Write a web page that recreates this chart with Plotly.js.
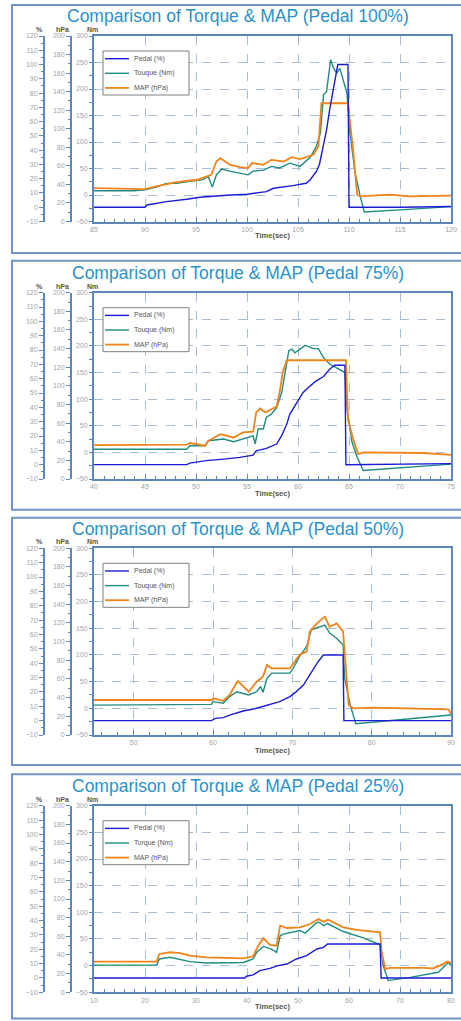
<!DOCTYPE html>
<html><head><meta charset="utf-8">
<script src="https://cdn.plot.ly/plotly-3.0.1.min.js"></script>
<style>html,body{margin:0;padding:0;background:#fff}#chart{width:461px;height:1021px}</style>
</head><body><div id="chart"></div>
<script>
// ---------- text ----------
const panelTitles = [
  'Comparison of Torque & MAP (Pedal 100%)',
  'Comparison of Torque & MAP (Pedal 75%)',
  'Comparison of Torque & MAP (Pedal 50%)',
  'Comparison of Torque & MAP (Pedal 25%)'
];
const pedalName = 'Pedal (%)';
const torqueNames = ['Touque (Nm)', 'Touque (Nm)', 'Touque (Nm)', 'Torque (Nm)'];
const mapName = 'MAP (hPa)';
const timeRanges = [[85, 120], [40, 75], [45, 90], [10, 80]];
const timeDticks = [5, 5, 10, 10];
const timeMinor = [1, 1, 2, 2];

// ---------- panel 1 (Pedal 100%) ----------
const p1PedalT = [85, 90, 90.2, 92.1, 94.1, 95.4, 98.0, 100.0, 101.9, 102.6, 104.5, 105.8, 106.2, 106.8, 107.1, 107.5, 107.8, 108.1, 108.6, 108.9, 109.9, 110.0, 115, 120];
const p1Pedal  = [0, 0, 1.6, 3.9, 5.6, 7.0, 8.4, 9.1, 10.9, 13.3, 15.1, 16.8, 19.3, 25.1, 30, 42.6, 54.2, 68.2, 86.9, 100, 100, 0, 0, 0.5];
const p1TorqueT = [85, 88.9, 90, 91.1, 92.1, 93.1, 94.4, 95.7, 96.2, 96.6, 97.0, 97.5, 98.3, 99.3, 100.1, 100.6, 101.6, 102.4, 103.2, 104.2, 105.2, 106.2, 106.8, 107.2, 107.5, 107.8, 108.2, 108.5, 108.8, 109.1, 109.4, 109.8, 110.1, 110.6, 111.1, 111.5, 115, 120];
const p1Torque  = [8, 8, 10, 15, 22, 22, 26, 29, 35, 15, 38, 49, 45, 41, 38, 45, 47, 54, 51, 60, 54, 71, 92, 117, 189, 195, 255, 239, 230, 239, 217, 192, 117, 41, -2, -32, -28, -22];
const p1MapT = [85, 90, 91.1, 93.1, 95.1, 96.2, 96.5, 97.0, 97.4, 98.3, 99.3, 100.1, 100.5, 101.6, 102.4, 103.6, 104.4, 105.2, 106.5, 107.0, 107.3, 109.9, 110.4, 110.8, 111.1, 114.0, 116.0, 120];
const p1Map  = [36, 35, 37.8, 42.5, 45, 48.6, 50.4, 64.7, 68.3, 61.2, 58.6, 57.6, 63, 61.2, 66.5, 64.7, 69.4, 67.3, 71.9, 80.9, 127.5, 127.5, 77.3, 28.9, 27.1, 28.9, 27, 27.8];

// ---------- panel 2 (Pedal 75%) ----------
const p2PedalT = [40, 49.1, 49.4, 51.0, 52.7, 54.3, 55.6, 55.9, 56.9, 57.9, 58.4, 58.9, 59.2, 59.9, 60.5, 61.2, 61.8, 62.5, 63.1, 63.6, 64.6, 64.7, 75];
const p2Pedal  = [0, 0, 1.1, 2.8, 3.9, 5.1, 6.7, 9.7, 11.4, 14.4, 20.2, 28.3, 35.3, 43.4, 50.4, 55, 58.5, 61.5, 66.6, 69.4, 69.4, 0, 0.7];
const p2TorqueT = [40, 49.1, 49.4, 50.9, 51.2, 52.7, 53.7, 54.6, 55.6, 55.8, 56.1, 56.6, 56.9, 57.4, 57.9, 58.4, 58.7, 59.1, 59.4, 59.7, 60.7, 61.5, 62.0, 62.5, 63.1, 64.0, 64.6, 64.8, 65.3, 65.8, 66.4, 75];
const p2Torque  = [6, 6, 12.5, 12.5, 22, 25, 20, 25, 31, 16, 44, 44, 66, 72, 84, 112, 147, 191, 194, 187, 201, 195, 195, 178, 166, 156, 150, 81, 19, -9, -34, -22];
const p2MapT = [40, 49.1, 49.4, 50.9, 51.2, 52.4, 53.7, 54.6, 55.6, 55.9, 56.3, 56.8, 57.9, 58.2, 58.5, 58.9, 64.7, 64.9, 65.4, 65.9, 66.4, 69.0, 72.3, 75];
const p2Map  = [36.4, 36.8, 38.6, 35.7, 41, 48.2, 44.6, 50, 50.7, 71.4, 75.7, 71.4, 77.8, 92.8, 114.3, 127.5, 127.5, 64.3, 42.9, 26.8, 28.6, 28.6, 27.9, 26];

// ---------- panel 3 (Pedal 50%) ----------
const p3PedalT = [45, 59.8, 60.3, 61.3, 62.1, 63.8, 65.5, 66.8, 68.4, 69.7, 70.5, 71.4, 72.2, 73.1, 73.9, 76.4, 76.5, 90];
const p3Pedal  = [0, 0, 1.6, 2.1, 3.9, 6.7, 8.6, 10.9, 13.2, 16.7, 20.2, 24.8, 31.8, 39.9, 45.7, 45.7, 0, 0];
const p3TorqueT = [45, 59.8, 60.0, 61.3, 62.1, 63.0, 64.5, 65.5, 66.0, 66.3, 66.8, 67.4, 69.7, 70.1, 70.9, 71.8, 72.4, 73.5, 74.1, 74.7, 75.6, 76.4, 76.6, 77.3, 78.0, 90];
const p3Torque  = [6, 7.5, 12.5, 9.4, 22, 31, 25, 31, 41, 30, 56, 66, 66, 75, 97, 116, 147, 153, 156, 141, 131, 119, 56, 6, -29, -12.5];
const p3MapT = [45, 59.8, 60.1, 61.3, 62.1, 63.1, 64.5, 65.5, 66.3, 66.8, 67.4, 69.7, 70.9, 71.8, 72.2, 73.1, 74.1, 74.7, 75.6, 76.4, 77.1, 77.7, 80.2, 86.5, 89.7, 90];
const p3Map  = [37.5, 37.5, 39.3, 36.4, 42.9, 57.9, 46.4, 57.1, 62.5, 75, 71.4, 71.4, 85.7, 89.3, 110.7, 119.6, 126.8, 116, 119.6, 110.7, 32.1, 28.6, 29.3, 28.6, 27.5, 22];

// ---------- panel 4 (Pedal 25%) ----------
const p4PedalT = [10, 39.6, 39.9, 41.2, 42.5, 44.5, 46.1, 47.8, 49.7, 51.7, 53.7, 55.0, 55.8, 66.1, 66.3, 80];
const p4Pedal  = [0, 0, 1.2, 2.1, 5.1, 6.7, 8.6, 9.7, 13.2, 15.6, 20.2, 21.3, 23.7, 23.7, 0, 0];
const p4TorqueT = [10, 22.3, 22.8, 24.9, 28.8, 32.1, 39.3, 41.2, 41.9, 43.2, 44.8, 45.8, 46.5, 47.1, 50.4, 51.4, 53.7, 54.3, 55.0, 55.8, 58.9, 62.8, 66.1, 66.7, 67.7, 72.0, 77.5, 78.5, 79.5, 80];
const p4Torque  = [1, 1, 12.5, 15.6, 7.5, 5, 6, 12.5, 25, 36, 31, 25, 56, 59, 66, 61, 81, 81, 75, 79, 64, 52, 39, 0, -28, -22, -12.5, -3, 6, 0];
const p4MapT = [10, 22.3, 22.8, 24.9, 26.9, 28.8, 32.1, 39.3, 41.2, 42.2, 43.2, 44.5, 45.8, 46.5, 47.8, 50.4, 52.4, 54.0, 55.0, 55.9, 58.9, 61.5, 66.1, 66.4, 67.1, 68.0, 74.6, 76.5, 77.8, 79.3, 80];
const p4Map  = [32.9, 32.9, 41.1, 42.9, 42.1, 39.3, 37.5, 36.4, 38.6, 50, 57.9, 50.7, 50, 71.4, 68.9, 69.6, 73.2, 78.6, 75.7, 77.8, 69.6, 66.8, 64.3, 42.9, 25, 26.1, 26.1, 25.7, 28.6, 32.9, 31.4];

const panels = [
  [p1PedalT, p1Pedal, p1TorqueT, p1Torque, p1MapT, p1Map],
  [p2PedalT, p2Pedal, p2TorqueT, p2Torque, p2MapT, p2Map],
  [p3PedalT, p3Pedal, p3TorqueT, p3Torque, p3MapT, p3Map],
  [p4PedalT, p4Pedal, p4TorqueT, p4Torque, p4MapT, p4Map]
];

// ---------- geometry / style ----------
const W = 461, H = 1021;
const px = v => v / W;
const py = v => 1 - v / H;
const plotTop = [36, 292.7, 548.3, 805.7];
const plotBot = [221.5, 479, 735, 992.3];
const frameTop = [5, 260.7, 517.7, 774.3];
const frameBot = [253, 509.7, 765, 1018.5];
const titleY = [15.5, 272.5, 528.5, 785.8];
const X0 = 94, X1 = 451;

const AX = '#5f86b9';
const GRID = '#a9bdd4';
const TICKC = '#a3a3a3';
const FONT = 'Liberation Sans, Arial, sans-serif';
const C_PEDAL = '#1c1cd6', C_TORQUE = '#1e8c82', C_MAP = '#f0841a';
const W_PEDAL = 1.4, W_TORQUE = 1.4, W_MAP = 1.8;

const traces = [];
const layout = {
  width: W, height: H,
  margin: {l: 0, r: 0, t: 0, b: 0},
  paper_bgcolor: '#ffffff', plot_bgcolor: '#ffffff',
  font: {family: FONT, size: 7, color: '#666'},
  showlegend: false,
  annotations: [], shapes: []
};

for (let k = 0; k < 4; k++) {
  const xs = k === 0 ? '' : String(k + 1);
  const xName = 'x' + xs;
  const yNm = 3 * k + 1, yHpa = 3 * k + 2, yPct = 3 * k + 3;
  const yn = n => (n === 1 ? 'y' : 'y' + n);
  const yKey = n => (n === 1 ? 'yaxis' : 'yaxis' + n);
  const d = panels[k];
  const dom = [py(plotBot[k]), py(plotTop[k])];

  traces.push({x: d[0], y: d[1], xaxis: xName, yaxis: yn(yPct), name: pedalName,
    mode: 'lines', line: {color: C_PEDAL, width: W_PEDAL}});
  traces.push({x: d[2], y: d[3], xaxis: xName, yaxis: yn(yNm), name: torqueNames[k],
    mode: 'lines', line: {color: C_TORQUE, width: W_TORQUE}});
  traces.push({x: d[4], y: d[5], xaxis: xName, yaxis: yn(yHpa), name: mapName,
    mode: 'lines', line: {color: C_MAP, width: W_MAP}});

  layout['xaxis' + xs] = {
    domain: [px(X0), px(X1)], anchor: yn(yNm), range: timeRanges[k],
    dtick: timeDticks[k], tick0: 0,
    showline: true, linecolor: AX, linewidth: 2, mirror: true,
    ticks: 'inside', ticklen: 4, tickcolor: AX, tickwidth: 1,
    minor: {dtick: timeMinor[k], ticks: 'inside', ticklen: 3, tickcolor: AX, showgrid: false},
    showgrid: true, gridcolor: GRID, griddash: 'dash', gridwidth: 1,
    zeroline: false,
    tickfont: {size: 7, color: TICKC, family: FONT},
    title: {text: 'Time(sec)', font: {size: 7.5, color: '#555', family: FONT, weight: 700}, standoff: 1}
  };
  layout[yKey(yNm)] = {
    domain: dom, anchor: xName, range: [-50, 300], dtick: 50,
    showline: true, linecolor: AX, linewidth: 2, mirror: true,
    ticks: 'outside', ticklen: 3, tickcolor: AX, tickwidth: 1,
    minor: {dtick: 25, ticks: 'outside', ticklen: 3, tickcolor: AX, showgrid: false},
    showgrid: true, gridcolor: GRID, griddash: 'dash', gridwidth: 1,
    zeroline: false,
    tickfont: {size: 7, color: TICKC, family: FONT}
  };
  layout[yKey(yHpa)] = {
    overlaying: yn(yNm), anchor: 'free', position: px(71), side: 'left',
    range: [0, 200], dtick: 20,
    showline: true, linecolor: AX, linewidth: 2,
    ticks: 'outside', ticklen: 4, tickcolor: AX, tickwidth: 1,
    minor: {dtick: 10, ticks: 'outside', ticklen: 2, tickcolor: AX, showgrid: false},
    showgrid: false, zeroline: false,
    tickfont: {size: 7, color: TICKC, family: FONT}
  };
  layout[yKey(yPct)] = {
    overlaying: yn(yNm), anchor: 'free', position: px(44), side: 'left',
    range: [-10, 120], dtick: 10,
    showline: true, linecolor: AX, linewidth: 2,
    ticks: 'outside', ticklen: 4, tickcolor: AX, tickwidth: 1,
    minor: {dtick: 5, ticks: 'outside', ticklen: 2, tickcolor: AX, showgrid: false},
    showgrid: false, zeroline: false,
    tickfont: {size: 7, color: TICKC, family: FONT}
  };

  // legend box (drawn in the corner of each panel)
  const lgTop = plotTop[k] + 15;
  layout.shapes.push({
    type: 'rect', xref: 'paper', yref: 'paper', layer: 'above',
    x0: px(103), x1: px(189), y0: py(lgTop + 44), y1: py(lgTop),
    line: {color: '#808080', width: 1}, fillcolor: '#ffffff'
  });
  const entries = [[pedalName, C_PEDAL, W_PEDAL], [torqueNames[k], C_TORQUE, W_TORQUE], [mapName, C_MAP, W_MAP]];
  entries.forEach((e, i) => {
    const ey = lgTop + 7.7 + i * 14.6;
    layout.shapes.push({
      type: 'line', xref: 'paper', yref: 'paper', layer: 'above',
      x0: px(105), x1: px(129), y0: py(ey), y1: py(ey),
      line: {color: e[1], width: e[2]}
    });
    layout.annotations.push({
      xref: 'paper', yref: 'paper', x: px(131.5), y: py(ey), xanchor: 'left', yanchor: 'middle',
      text: e[0], showarrow: false, font: {size: 7, color: '#555', family: FONT}
    });
  });

  layout.annotations.push({
    xref: 'paper', yref: 'paper', x: px(238), y: py(titleY[k]), xanchor: 'center', yanchor: 'middle',
    text: panelTitles[k], showarrow: false, borderpad: 0,
    font: {size: 17.5, color: '#2a92c9', family: FONT}
  });
  const unitLabels = [['%', 39], ['hPa', 63], ['Nm', 92]];
  unitLabels.forEach(u => layout.annotations.push({
    xref: 'paper', yref: 'paper', x: px(u[1]), y: py(plotTop[k] - 6.5), xanchor: 'center', yanchor: 'middle',
    text: '<b>' + u[0] + '</b>', showarrow: false, borderpad: 0, font: {size: 7, color: '#555', family: FONT}
  }));
  layout.shapes.push({
    type: 'rect', xref: 'paper', yref: 'paper', layer: 'below',
    x0: px(12), x1: px(470), y0: py(frameBot[k]), y1: py(frameTop[k]),
    line: {color: '#7194c4', width: 2}, fillcolor: 'rgba(0,0,0,0)'
  });
}

Plotly.newPlot('chart', traces, layout, {displayModeBar: false, responsive: false, staticPlot: true});
</script>
</body></html>
